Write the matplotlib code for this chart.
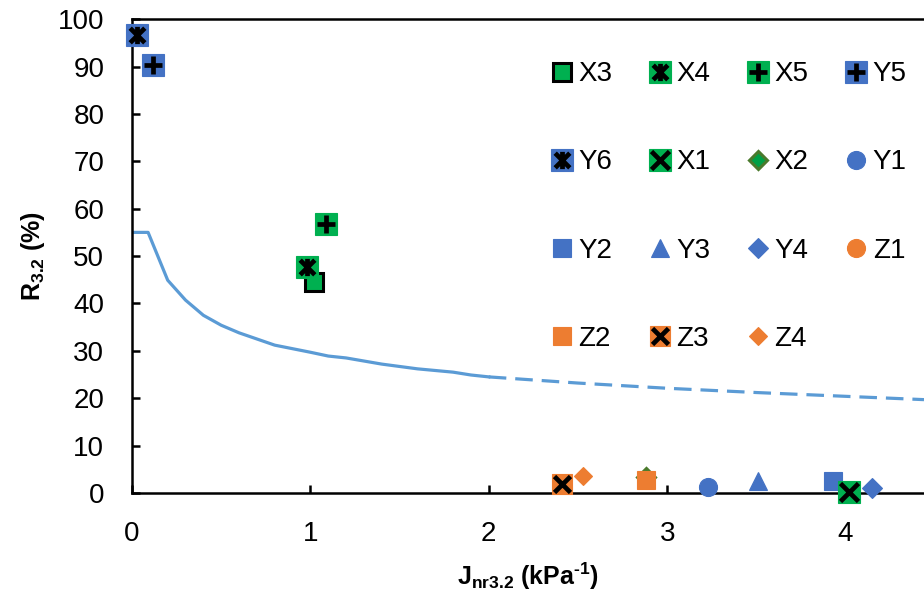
import matplotlib.pyplot as plt
import numpy as np
from matplotlib.path import Path

plt.rcParams['font.family'] = ['Liberation Sans', 'DejaVu Sans']
plt.rcParams['mathtext.fontset'] = 'custom'
plt.rcParams['mathtext.bf'] = 'Liberation Sans:bold'
plt.rcParams['mathtext.rm'] = 'Liberation Sans:bold'
plt.rcParams['mathtext.default'] = 'bf'

GREEN = '#00B050'
BLUE = '#4472C4'
ORANGE = '#ED7D31'
CURVE = '#5B9BD5'

# limit curve (solid part, then dashed extrapolation)
curve_x = [0.0, 0.09, 0.2, 0.3, 0.4, 0.5, 0.6, 0.8, 1.0, 1.1, 1.2, 1.4, 1.6, 1.8, 1.9, 2.0]
curve_y = [55.0, 55.0, 44.9, 40.7, 37.5, 35.4, 33.8, 31.2, 29.7, 28.9, 28.5, 27.2, 26.2, 25.5, 24.9, 24.5]
dash_x = [2.0, 2.5, 3.0, 3.5, 4.0, 4.44]
dash_y = [24.5, 23.2, 22.1, 21.2, 20.4, 19.7]

# points (Jnr, R)
names = ['X3', 'X4', 'X5', 'Y5', 'Y6', 'X1', 'X2', 'Y1', 'Y2', 'Y3', 'Y4', 'Z1', 'Z2', 'Z3', 'Z4']
jnr = [1.02, 0.98, 1.09, 0.12, 0.03, 4.02, 2.88, 3.23, 3.93, 3.51, 4.15, 4.70, 2.88, 2.41, 2.53]
rec = [44.5, 47.6, 56.8, 90.3, 96.6, 0.3, 3.4, 1.3, 2.6, 2.5, 1.1, 1.0, 2.8, 1.9, 3.6]

star = Path([(0, -1), (0, 1), (-0.85, -0.85), (0.85, 0.85), (-0.85, 0.85), (0.85, -0.85)],
            [Path.MOVETO, Path.LINETO, Path.MOVETO, Path.LINETO, Path.MOVETO, Path.LINETO])

# base marker, face, edge, size, overlay marker
styles = {
    'X3': ('s', GREEN, 'black', 13, None),
    'X4': ('s', GREEN, GREEN, 15.5, star),
    'X5': ('s', GREEN, GREEN, 15.5, '+'),
    'Y5': ('s', BLUE, BLUE, 15.5, '+'),
    'Y6': ('s', BLUE, BLUE, 15.5, star),
    'X1': ('s', GREEN, GREEN, 15.5, 'x'),
    'X2': ('D', '#00A046', '#4A7A2C', 9.5, None),
    'Y1': ('o', BLUE, BLUE, 13, None),
    'Y2': ('s', BLUE, BLUE, 13.5, None),
    'Y3': ('^', BLUE, BLUE, 13, None),
    'Y4': ('D', BLUE, BLUE, 10, None),
    'Z1': ('o', ORANGE, ORANGE, 13, None),
    'Z2': ('s', ORANGE, ORANGE, 13.5, None),
    'Z3': ('s', ORANGE, ORANGE, 15, 'x'),
    'Z4': ('D', ORANGE, ORANGE, 9, None),
}

fig = plt.figure(figsize=(9.24, 5.99), dpi=100)
ax = fig.add_axes([0.1429, 0.177, 0.8571, 0.791])

ax.plot(curve_x, curve_y, color=CURVE, lw=2.3, zorder=2)
ax.plot(dash_x, dash_y, color=CURVE, lw=2.3, dashes=(5.5, 2.8), zorder=2)

handles = {}
draw_order = ['X2', 'Z2', 'Y1', 'Y2', 'Y3', 'Y4', 'Z1', 'Z3', 'Z4', 'X1', 'X3', 'X4', 'X5', 'Y5', 'Y6']
for n in draw_order:
    i = names.index(n)
    m, fc, ec, ms, over = styles[n]
    mew = 2.2 if n in ('X3', 'X2') else 0.8
    h1, = ax.plot([jnr[i]], [rec[i]], ls='none', marker=m, ms=ms, mfc=fc, mec=ec, mew=mew,
                  zorder=3, clip_on=False if jnr[i] < 4.44 else True)
    if over is not None:
        h2, = ax.plot([jnr[i]], [rec[i]], ls='none', marker=over, ms=ms * 0.8, mec='black',
                      mew=3.4, zorder=4, clip_on=False)
        handles[n] = (h1, h2)
    else:
        handles[n] = h1

ax.set_xlim(0, 4.44)
ax.set_ylim(0, 100)
ax.set_xticks([0, 1, 2, 3, 4])
ax.set_yticks(np.arange(0, 101, 10))
ax.tick_params(direction='in', length=6, width=1.8, labelsize=20, pad=20)
for s in ['left', 'bottom', 'top']:
    ax.spines[s].set_linewidth(1.8)
ax.spines['right'].set_visible(False)

ax.set_xlabel(r'$\mathbf{J_{nr3.2}}$ (kPa$^{‐1}$)', fontsize=18, fontweight='bold', labelpad=10)
ax.set_ylabel(r'$\mathbf{R_{3.2}}$ (%)', fontsize=18, fontweight='bold', labelpad=8)

leg_order = ['X3', 'Y6', 'Y2', 'Z2', 'X4', 'X1', 'Y3', 'Z3', 'X5', 'X2', 'Y4', 'Z4', 'Y5', 'Y1', 'Z1']
leg = ax.legend([handles[n] for n in leg_order], leg_order, ncol=4, frameon=False,
                fontsize=20, numpoints=1, handlelength=0.9, handletextpad=0.15,
                columnspacing=1.26, labelspacing=2.24,
                loc='upper left', bbox_to_anchor=(0.495, 0.964))

fig.savefig('out.png', dpi=100)
